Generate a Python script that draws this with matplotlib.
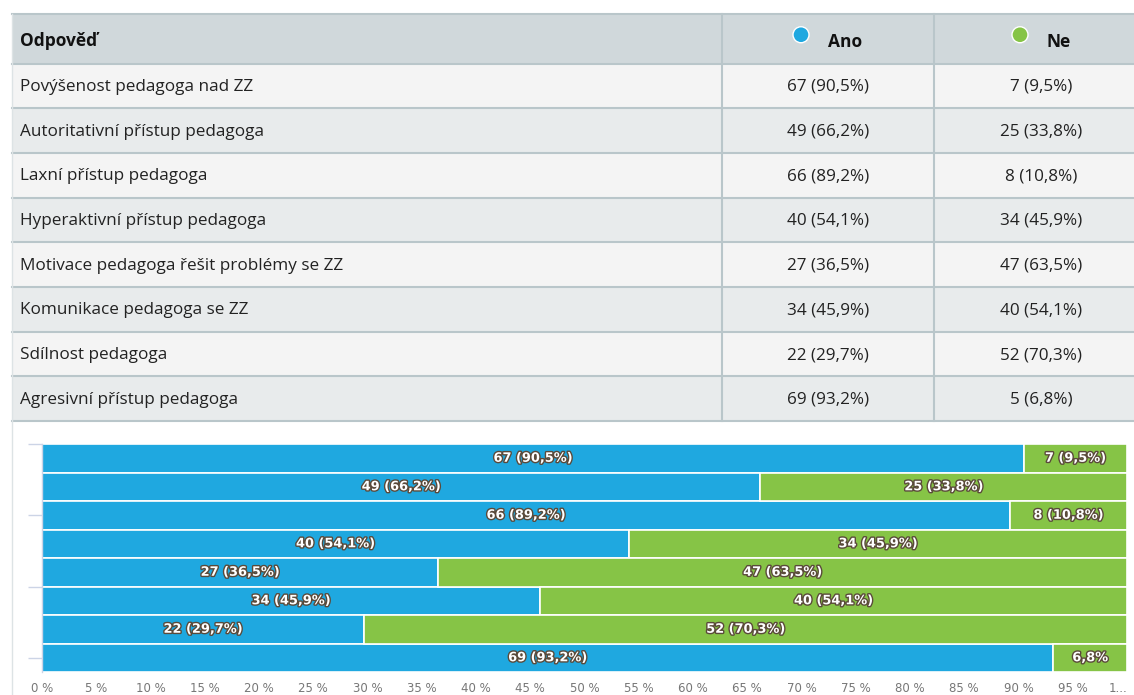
import matplotlib.pyplot as plt
import matplotlib.patheffects as pe
from matplotlib.patches import Rectangle, Circle

# ---------------------------------------------------------------------------
# Data
# ---------------------------------------------------------------------------
categories = [
    "Povýšenost pedagoga nad ZZ",
    "Autoritativní přístup pedagoga",
    "Laxní přístup pedagoga",
    "Hyperaktivní přístup pedagoga",
    "Motivace pedagoga řešit problémy se ZZ",
    "Komunikace pedagoga se ZZ",
    "Sdílnost pedagoga",
    "Agresivní přístup pedagoga",
]
ano_counts = [67, 49, 66, 40, 27, 34, 22, 69]
ano_pct = [90.5, 66.2, 89.2, 54.1, 36.5, 45.9, 29.7, 93.2]
ne_counts = [7, 25, 8, 34, 47, 40, 52, 5]
ne_pct = [9.5, 33.8, 10.8, 45.9, 63.5, 54.1, 70.3, 6.8]
ne_bar_labels = ["7 (9,5%)", "25 (33,8%)", "8 (10,8%)", "34 (45,9%)",
                 "47 (63,5%)", "40 (54,1%)", "52 (70,3%)", "6,8%"]
x_ticks = list(range(0, 101, 5))
x_tick_labels = [f"{t} %" for t in x_ticks[:-1]] + ["1..."]

header = ["Odpověď", "Ano", "Ne"]

BLUE = "#1fa8e0"
GREEN = "#86c446"


def fmt(n, p):
    return f"{n} ({p:.1f}%)".replace(".", ",")


W, H = 1134, 695
fig = plt.figure(figsize=(W / 100, H / 100), dpi=100)
fig.patch.set_facecolor("white")

# ---------------------------------------------------------------------------
# Table drawn in pixel coordinates
# ---------------------------------------------------------------------------
tab = fig.add_axes([0, 0, 1, 1])
tab.set_xlim(0, W)
tab.set_ylim(H, 0)
tab.axis("off")

left, right = 12, 1134
col1, col2 = 722, 934
top, head_h, row_h = 14, 49.5, 44.7
line_c = "#b9c6ca"
table_font = ["Open Sans", "DejaVu Sans"]
fs = 12.3

tab.add_patch(Rectangle((left, top), right - left, head_h, facecolor="#d0d8db",
                        edgecolor="none"))
for i in range(len(categories)):
    y0 = top + head_h + i * row_h
    fc = "#f4f4f4" if i % 2 == 0 else "#e8ebec"
    tab.add_patch(Rectangle((left, y0), right - left, row_h, facecolor=fc,
                            edgecolor="none"))
    yc = y0 + row_h / 2 + 1
    tab.text(left + 8, yc, categories[i], va="center", ha="left",
             fontsize=fs, color="#222222", family=table_font)
    tab.text(828, yc, fmt(ano_counts[i], ano_pct[i]), va="center",
             ha="center", fontsize=fs, color="#222222", family=table_font)
    tab.text(1041, yc, fmt(ne_counts[i], ne_pct[i]), va="center",
             ha="center", fontsize=fs, color="#222222", family=table_font)

bottom = top + head_h + len(categories) * row_h
for i in range(len(categories) + 2):
    y = top + (0 if i == 0 else head_h + (i - 1) * row_h)
    tab.plot([left, right], [y, y], color=line_c, lw=1.5)
for x in (col1, col2):
    tab.plot([x, x], [top, bottom], color=line_c, lw=1.5)
tab.plot([left, left], [top, H], color="#dde3e5", lw=1)

hy = top + head_h / 2
tab.text(left + 8, hy + 2, header[0], va="center", ha="left", fontsize=12.5,
         fontweight="bold", color="#111111", family=table_font)
tab.add_patch(Circle((801, hy - 4), 8, facecolor=BLUE, edgecolor="white", lw=1))
tab.text(828, hy + 3, header[1], va="center", ha="left", fontsize=12.5,
         fontweight="bold", color="#111111", family=table_font)
tab.add_patch(Circle((1020, hy - 4), 8, facecolor=GREEN, edgecolor="white", lw=1))
tab.text(1046, hy + 3, header[2], va="center", ha="left", fontsize=12.5,
         fontweight="bold", color="#111111", family=table_font)

# ---------------------------------------------------------------------------
# Stacked bar chart
# ---------------------------------------------------------------------------
bx0, bx1, by_top, by_bot = 42, 1127, 444, 672
ax = fig.add_axes([bx0 / W, (H - by_bot) / H, (bx1 - bx0) / W, (by_bot - by_top) / H])
ypos = list(range(len(categories)))
ax.barh(ypos, ano_pct, height=1.0, color=BLUE, edgecolor="white", lw=1.2)
ax.barh(ypos, ne_pct, left=ano_pct, height=1.0, color=GREEN, edgecolor="white", lw=1.2)
ax.set_xlim(0, 100)
ax.set_ylim(len(categories) - 0.5, -0.5)

outline = [pe.withStroke(linewidth=2, foreground="#5a4a3a")]
for i in ypos:
    ax.text(ano_pct[i] / 2, i, fmt(ano_counts[i], ano_pct[i]), ha="center",
            va="center", fontsize=9.3, fontweight="bold", color="white",
            path_effects=outline)
    ax.text(ano_pct[i] + ne_pct[i] / 2, i, ne_bar_labels[i], ha="center",
            va="center", fontsize=9.3, fontweight="bold", color="white",
            path_effects=outline)

for s in ax.spines.values():
    s.set_visible(False)
ax.set_xticks(x_ticks)
ax.set_xticklabels(x_tick_labels, fontsize=8.5, color="#777777")
ax.get_xticklabels()[-1].set_horizontalalignment("right")
ax.tick_params(axis="x", length=0, pad=7)
ax.set_yticks([-0.5, 2.0, 4.5, 7.0])
ax.set_yticklabels([])
ax.tick_params(axis="y", length=10, color="#ccd4e6", width=1)
ax.plot([0, 0], [-0.5, 7.5], color="#ccd4e6", lw=1, clip_on=False)

fig.savefig("out.png", dpi=100)
